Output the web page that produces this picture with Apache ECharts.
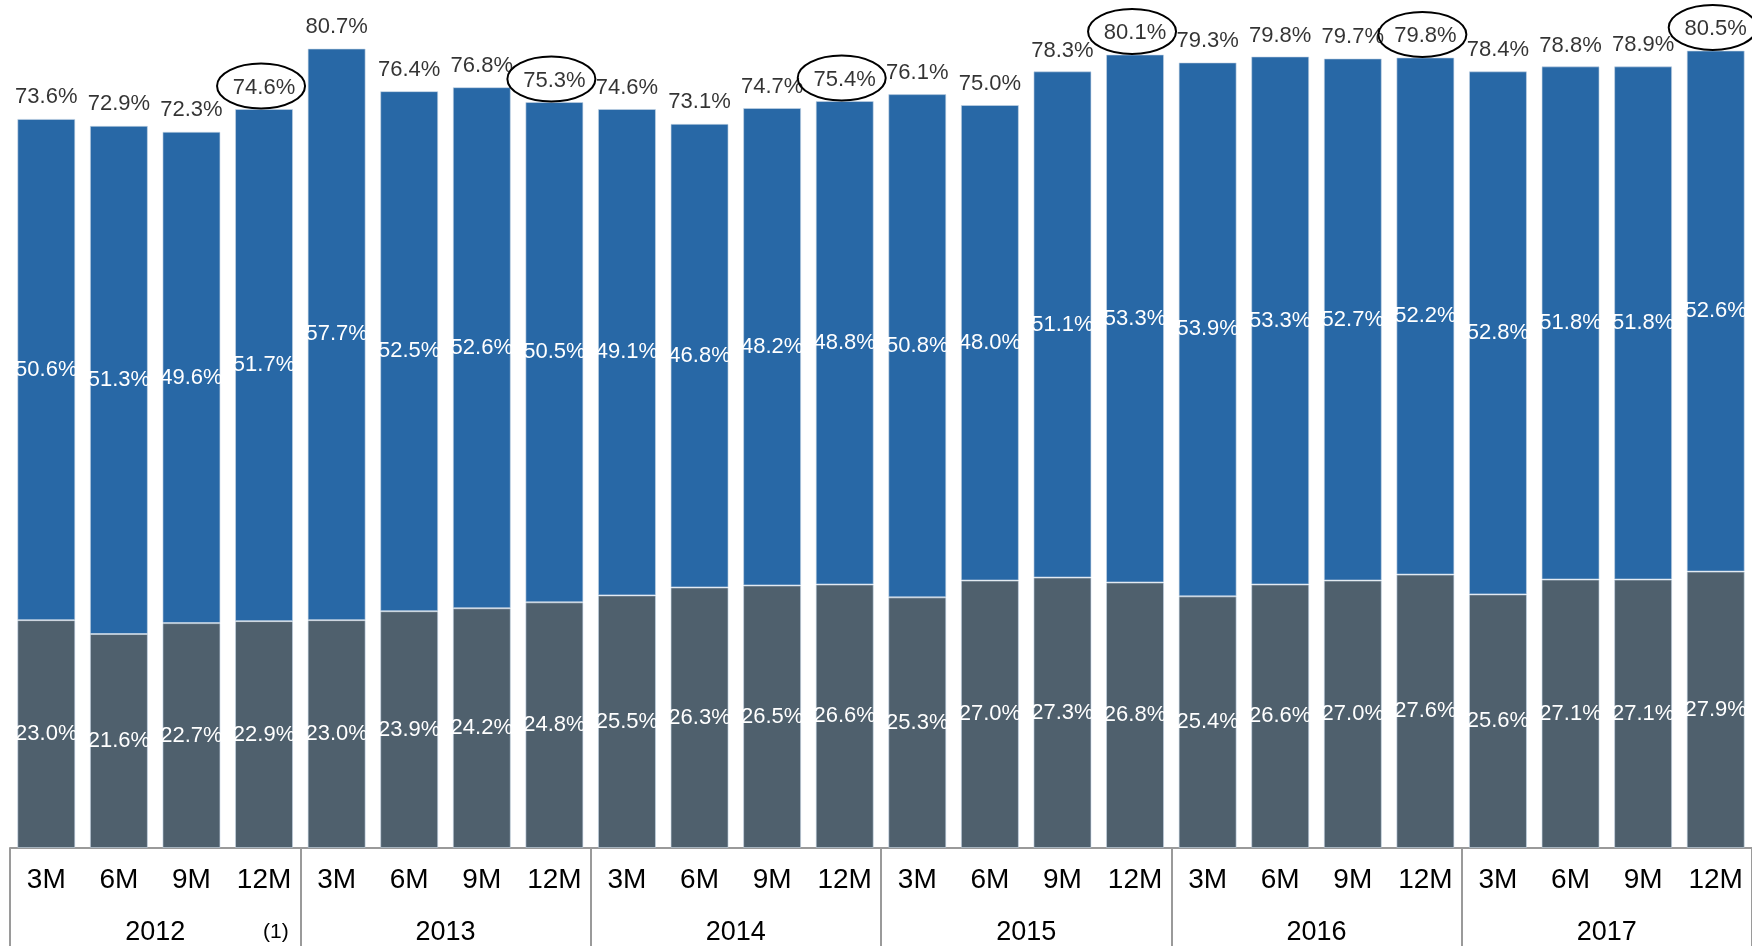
<!DOCTYPE html>
<html>
<head>
<meta charset="utf-8">
<title>Stacked ratio by period</title>
<script src="https://cdn.jsdelivr.net/npm/echarts@6/dist/echarts.min.js"></script>
<style>
  html, body { margin: 0; padding: 0; background: #ffffff; }
  #chart { width: 1752px; height: 946px; }
</style>
</head>
<body>
<div id="chart"></div>
<script>
// Reporting periods within each year and the years shown
const years = ['2012', '2013', '2014', '2015', '2016', '2017'];
const periods = ['3M', '6M', '9M', '12M'];

// Lower (grey) component, %
const greyValues = [
  23.0, 21.6, 22.7, 22.9,
  23.0, 23.9, 24.2, 24.8,
  25.5, 26.3, 26.5, 26.6,
  25.3, 27.0, 27.3, 26.8,
  25.4, 26.6, 27.0, 27.6,
  25.6, 27.1, 27.1, 27.9
];

// Upper (blue) component, %
const blueValues = [
  50.6, 51.3, 49.6, 51.7,
  57.7, 52.5, 52.6, 50.5,
  49.1, 46.8, 48.2, 48.8,
  50.8, 48.0, 51.1, 53.3,
  53.9, 53.3, 52.7, 52.2,
  52.8, 51.8, 51.8, 52.6
];

// Stated totals above each bar, %
const totalValues = [
  73.6, 72.9, 72.3, 74.6,
  80.7, 76.4, 76.8, 75.3,
  74.6, 73.1, 74.7, 75.4,
  76.1, 75.0, 78.3, 80.1,
  79.3, 79.8, 79.7, 79.8,
  78.4, 78.8, 78.9, 80.5
];

const FONT = '"Liberation Sans", Arial, sans-serif';
const BLUE = '#2868a6';
const GREY = '#4f606d';

// One category per year/period pair
const categories = [];
years.forEach(y => periods.forEach(p => categories.push(y + '|' + p)));

// Year-end (12M) points get circled
const yearEndPoints = [];
categories.forEach((c, i) => {
  if (c.split('|')[1] === '12M') yearEndPoints.push([i, totalValues[i]]);
});

const pct = v => v.toFixed(1) + '%';

const chart = echarts.init(document.getElementById('chart'), null, { renderer: 'canvas' });

const barLabel = {
  show: true,
  position: 'inside',
  color: '#ffffff',
  fontSize: 22,
  fontFamily: FONT,
  formatter: p => pct(p.value)
};

chart.setOption({
  animation: false,
  backgroundColor: '#ffffff',
  textStyle: { fontFamily: FONT },
  grid: { left: 10, right: -2, top: 0, bottom: 98, containLabel: false },
  xAxis: [
    {
      type: 'category',
      data: categories,
      position: 'bottom',
      axisLine: { show: true, lineStyle: { color: '#9a9a9a', width: 2 } },
      axisTick: { show: false },
      axisLabel: {
        interval: 0,
        margin: 18,
        fontSize: 28,
        color: '#000000',
        fontFamily: FONT,
        formatter: v => v.split('|')[1]
      },
      splitLine: { show: false }
    },
    {
      type: 'category',
      data: years,
      position: 'bottom',
      offset: 0,
      axisLine: { show: false },
      axisTick: {
        show: true,
        interval: 0,
        length: 100,
        lineStyle: { color: '#9a9a9a', width: 2 }
      },
      axisLabel: {
        interval: 0,
        margin: 71,
        fontSize: 27,
        color: '#000000',
        fontFamily: FONT
      },
      splitLine: { show: false }
    }
  ],
  yAxis: {
    type: 'value',
    min: 0,
    max: 85.6,
    show: false,
    splitLine: { show: false }
  },
  series: [
    {
      name: 'grey',
      type: 'bar',
      stack: 'total',
      xAxisIndex: 0,
      barWidth: 58,
      data: greyValues,
      itemStyle: { color: GREY, borderColor: 'rgba(200,215,230,0.6)', borderWidth: 1 },
      label: barLabel
    },
    {
      name: 'blue',
      type: 'bar',
      stack: 'total',
      xAxisIndex: 0,
      barWidth: 58,
      data: blueValues,
      itemStyle: { color: BLUE, borderColor: 'rgba(200,215,230,0.6)', borderWidth: 1 },
      label: barLabel
    },
    {
      name: 'total',
      type: 'scatter',
      xAxisIndex: 0,
      data: totalValues,
      symbolSize: 1,
      itemStyle: { color: 'rgba(0,0,0,0)' },
      silent: true,
      z: 5,
      label: {
        show: true,
        position: 'top',
        distance: 10,
        color: '#000000',
        fontSize: 22,
        fontFamily: FONT,
        formatter: p => pct(p.value)
      }
    },
    {
      name: 'yearEnd',
      type: 'custom',
      xAxisIndex: 0,
      data: yearEndPoints,
      silent: true,
      z: 4,
      renderItem: (params, api) => {
        const pt = api.coord([api.value(0), api.value(1)]);
        return {
          type: 'ellipse',
          shape: { cx: pt[0] - 3, cy: pt[1] - 23, rx: 44, ry: 22.5 },
          style: { fill: 'none', stroke: '#000000', lineWidth: 2 }
        };
      }
    }
  ],
  graphic: [
    {
      type: 'text',
      left: 263,
      top: 922,
      style: { text: '(1)', fontSize: 21, fill: '#000000', fontFamily: FONT }
    }
  ]
});
</script>
</body>
</html>
